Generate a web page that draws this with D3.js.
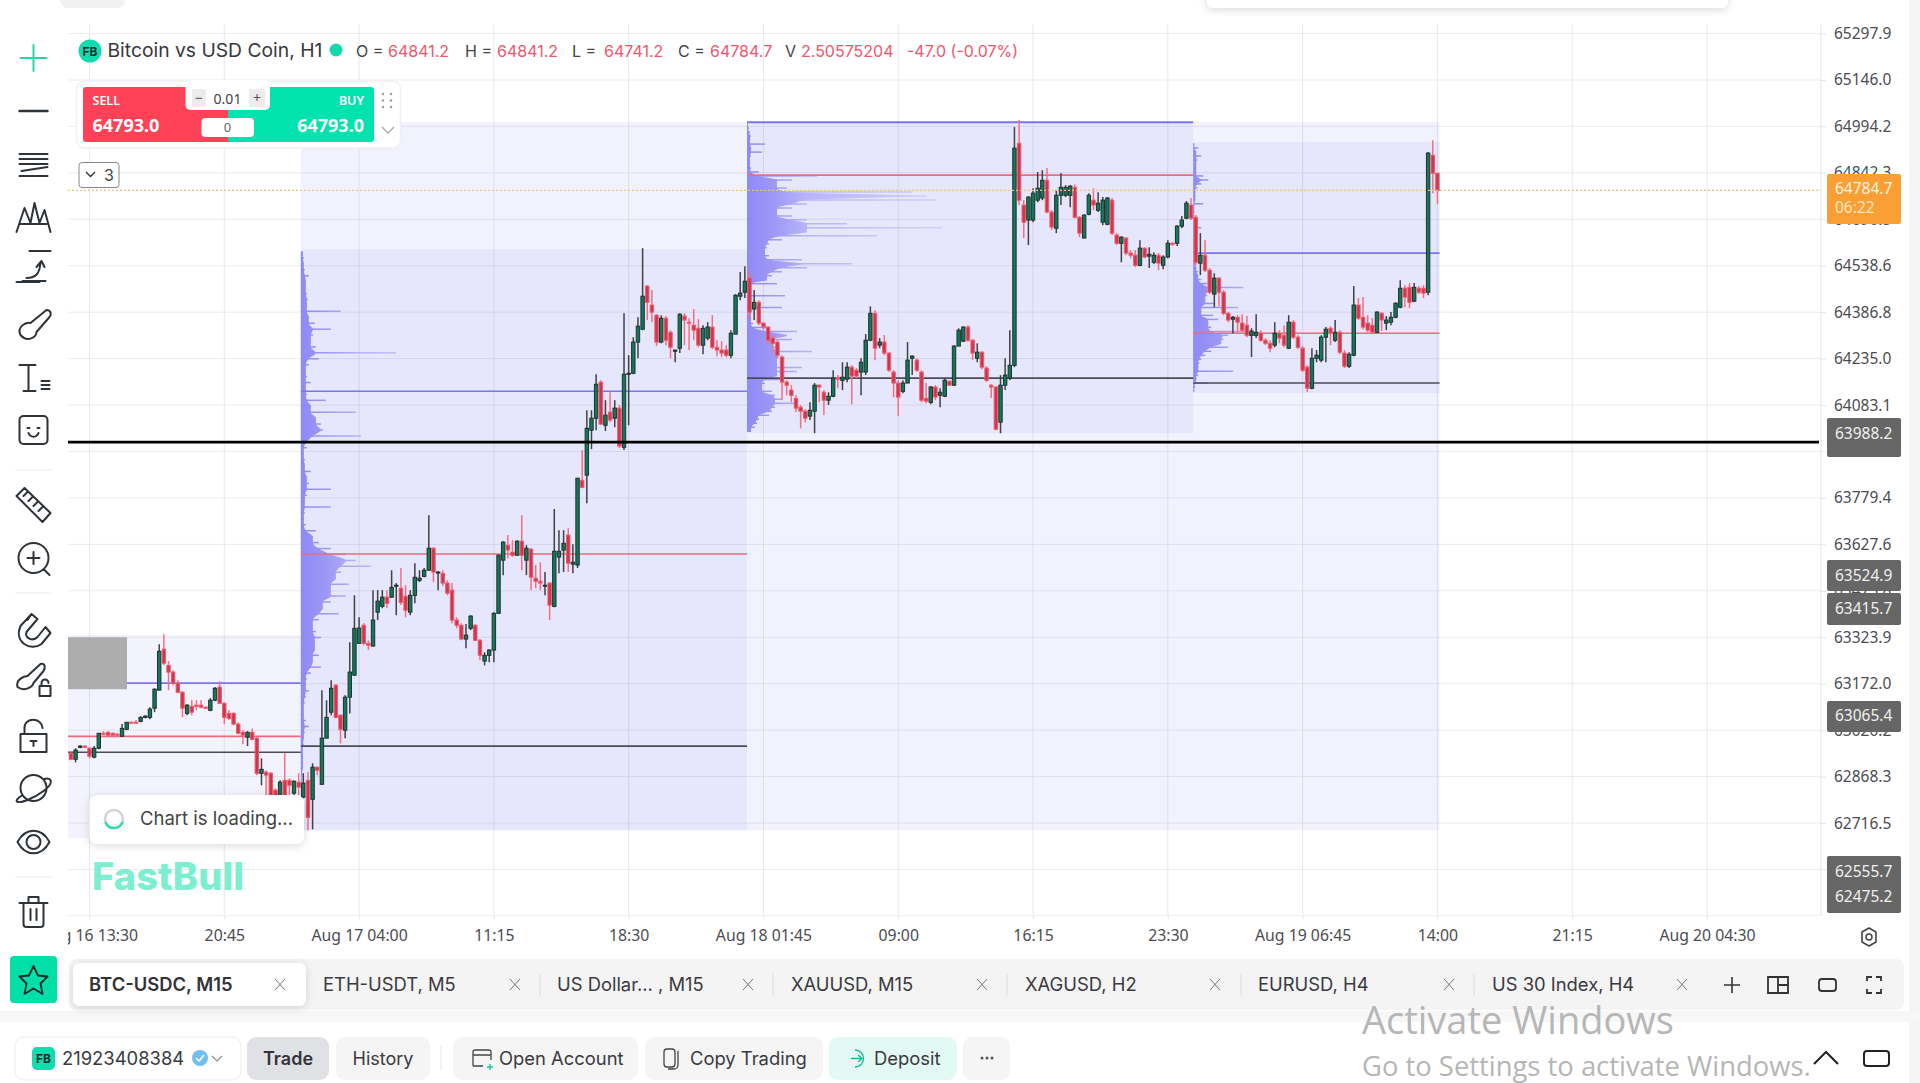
<!DOCTYPE html>
<html>
<head>
<meta charset="utf-8">
<script src="https://cdn.jsdelivr.net/npm/d3@7"></script>
<style>
html, body { margin: 0; padding: 0; background: #fff; overflow: hidden; }
text { font-family: Inter, "Noto Sans", sans-serif; }
text.num { font-family: "Noto Sans", sans-serif; }
</style>
</head>
<body>
<svg id="chart" width="1920" height="1083"></svg>
<script>
// 15 minute bars, the first one is Aug 16 12:30
var first_bar = '2024-08-16T12:30';
var bar_open = [62945,62925,62964,62968,62961,62932,62961,63010,63013,63010,63007,63000,63023,63046,63046,63049,63062,63062,63092,63151,63285,63232,63210,63174,63144,63075,63098,63102,63102,63095,63085,63118,63161,63108,63075,63075,63040,63013,62997,63013,62994,62879,62883,62879,62824,62807,62856,62856,62814,62850,62801,62856,62794,62899,62843,62994,63079,63167,63069,63020,63128,63200,
63304,63363,63304,63295,63406,63425,63455,63455,63491,63484,63458,63406,63461,63510,63523,63543,63615,63537,63533,63501,63478,63380,63363,63318,63353,63363,63314,63246,63265,63282,63402,63576,63625,63602,63592,63638,63576,63612,63517,63507,63491,63501,63425,63586,63609,63658,63563,63560,63837,63854,64001,64040,64158,64017,64060,64040,64073,63945,64184,64187,64289,64331,64472,64410,64377,64289,64367,64321,64259,64269,64374,64354,64344,64334,64279,64302,64338,64272,64263,64263,64246,64315,64439,64452,64498,64397,64419,64351,64338,64302,64289,64240,64158,64132,64105,64076,64063,64047,64063,64148,64125,64099,64112,64171,64164,64168,64207,64197,64191,64191,64295,64383,64279,64289,64253,64191,64155,64128,64155,64236,64230,64191,64105,64092,64142,64115,64112,64161,64148,64276,64292,64338,64295,64236,64256,64204,64148,64142,64027,64148,64171,64213,64939,64737,64688,64688,64753,64760,64818,64714,64661,64769,64769,64769,64795,64697,64629,64707,64753,64720,64681,64674,64753,64639,64612,64629,64580,64573,64540,64596,64570,64550,64573,64540,64567,64612,64612,64668,64694,64737,64697,64547,64573,64524,64446,64498,64452,64383,64364,64370,64351,64344,64311,64311,64318,64295,64285,64279,64318,64311,64269,64354,64305,64269,64207,64138,64236,64230,64305,64334,64295,64321,64253,64210,64246,64410,64370,64351,64344,64321,64383,64351,64354,64370,64403,64465,64468,64423,64465,64465,64452,64900,64841.2];
var bar_high = [62948,62961,62971,62971,62964,62968,63010,63017,63017,63013,63010,63040,63046,63049,63053,63066,63069,63095,63157,63301,63334,63246,63216,63183,63148,63105,63118,63118,63118,63098,63125,63161,63180,63111,63085,63079,63046,63020,63017,63026,62997,62928,62889,62883,62830,62856,62945,62863,62856,62879,62879,62883,62912,62902,63151,63118,63183,63170,63072,63134,63308,63461,
63389,63370,63314,63478,63478,63478,63478,63543,63501,63550,63494,63478,63566,63543,63550,63723,63618,63540,63543,63510,63501,63389,63370,63367,63396,63367,63318,63275,63285,63406,63595,63638,63658,63641,63641,63723,63625,63615,63560,63569,63537,63504,63743,63674,63674,63680,63628,63844,63936,64066,64066,64184,64164,64099,64125,64099,64083,64383,64246,64305,64370,64596,64475,64459,64380,64377,64374,64328,64263,64383,64383,64367,64397,64364,64344,64354,64377,64295,64292,64279,64328,64446,64518,64537,64524,64459,64426,64354,64341,64312,64295,64246,64164,64148,64115,64083,64070,64092,64155,64151,64132,64125,64197,64181,64223,64223,64213,64204,64236,64315,64406,64393,64302,64312,64256,64197,64164,64164,64289,64246,64236,64197,64155,64145,64148,64138,64171,64164,64279,64334,64341,64344,64299,64285,64259,64210,64151,64145,64181,64236,64328,64992,65015,64753,64766,64792,64845,64851,64858,64720,64786,64841,64802,64802,64805,64701,64707,64776,64792,64779,64763,64763,64760,64645,64635,64632,64590,64590,64622,64599,64599,64583,64580,64573,64622,64616,64671,64701,64750,64760,64704,64645,64622,64531,64514,64501,64459,64387,64374,64377,64380,64374,64334,64380,64328,64302,64295,64354,64328,64344,64377,64361,64311,64276,64213,64269,64263,64311,64338,64341,64361,64328,64263,64256,64472,64433,64436,64377,64367,64390,64387,64374,64387,64419,64491,64475,64482,64482,64472,64475,64910,64949,64841.2];
var bar_low = [62922,62915,62961,62961,62928,62928,62958,63004,63000,63000,63000,63000,63020,63043,63043,63046,63059,63056,63079,63151,63232,63151,63167,63141,63062,63069,63069,63085,63092,63089,63082,63115,63105,63040,63053,63036,63007,62974,62968,62987,62873,62840,62791,62791,62801,62791,62791,62791,62804,62807,62798,62693,62696,62873,62843,62994,63069,63059,62977,62994,63075,63197,
63304,63298,63282,63295,63380,63419,63419,63452,63396,63429,63389,63396,63435,63504,63520,63543,63504,63478,63491,63461,63370,63353,63314,63288,63347,63311,63249,63232,63242,63242,63402,63527,63582,63586,63592,63543,63527,63478,63484,63478,63461,63380,63422,63533,63537,63537,63533,63550,63811,63762,63939,64001,64017,63998,64027,64011,63942,63936,64017,64184,64236,64328,64361,64354,64276,64285,64279,64236,64223,64253,64279,64263,64295,64272,64249,64295,64266,64243,64240,64240,64236,64315,64426,64433,64367,64361,64344,64328,64279,64256,64236,64099,64115,64092,64060,64007,64027,64034,63991,64092,64050,64083,64109,64138,64132,64158,64086,64171,64115,64181,64292,64230,64269,64246,64191,64109,64047,64122,64155,64181,64191,64092,64089,64086,64099,64076,64109,64145,64145,64276,64289,64289,64230,64223,64200,64158,64106,64001,63991,64132,64164,64207,64737,64629,64606,64681,64746,64753,64710,64655,64645,64737,64763,64730,64694,64632,64629,64704,64720,64714,64671,64671,64639,64606,64550,64573,64563,64534,64537,64563,64531,64544,64524,64527,64563,64603,64603,64661,64691,64688,64540,64508,64518,64446,64403,64406,64377,64354,64318,64321,64321,64305,64240,64302,64289,64279,64256,64272,64285,64272,64266,64299,64266,64191,64125,64135,64223,64223,64223,64279,64289,64249,64204,64204,64243,64361,64331,64321,64315,64318,64325,64328,64344,64367,64400,64403,64400,64419,64446,64433,64442,64776,64741.2];
var bar_close = [62925,62955,62968,62964,62935,62961,63010,63007,63004,63004,63004,63026,63046,63043,63043,63062,63066,63089,63154,63278,63239,63210,63174,63144,63092,63102,63079,63098,63095,63092,63118,63157,63108,63062,63059,63040,63010,63004,63013,62990,62879,62892,62873,62807,62807,62850,62807,62840,62853,62834,62847,62735,62899,62889,62994,63062,63157,63062,63023,63128,63210,63353,
63354,63304,63298,63380,63442,63455,63435,63487,63494,63438,63412,63461,63520,63517,63543,63615,63537,63537,63501,63468,63380,63363,63318,63331,63393,63314,63265,63265,63282,63402,63592,63635,63609,63592,63638,63592,63615,63520,63507,63501,63494,63429,63605,63605,63631,63566,63569,63844,63814,64007,64040,64151,64021,64050,64034,64073,63949,64184,64187,64289,64341,64439,64419,64387,64289,64367,64295,64272,64263,64380,64361,64351,64328,64279,64334,64338,64272,64263,64253,64246,64318,64442,64449,64488,64387,64419,64351,64338,64295,64285,64246,64158,64148,64115,64073,64063,64040,64066,64148,64142,64099,64112,64171,64168,64174,64207,64178,64178,64223,64295,64383,64269,64289,64253,64197,64155,64109,64155,64230,64243,64197,64099,64096,64142,64109,64125,64164,64148,64276,64328,64338,64295,64253,64256,64207,64164,64142,64004,64148,64181,64213,64923,64753,64681,64763,64776,64792,64818,64714,64665,64769,64795,64795,64799,64697,64645,64704,64769,64737,64743,64753,64760,64645,64612,64632,64580,64573,64540,64596,64567,64576,64573,64547,64567,64612,64609,64668,64688,64743,64694,64550,64573,64524,64452,64498,64452,64383,64361,64370,64354,64328,64311,64325,64321,64295,64285,64269,64318,64302,64279,64354,64305,64272,64197,64138,64236,64246,64305,64331,64318,64321,64256,64210,64249,64410,64367,64338,64328,64321,64387,64361,64361,64370,64416,64465,64436,64419,64468,64452,64449,64907,64841,64784.7];

// Axis ticks
var price_ticks = [65297.9,65146.0,64994.2,64842.3,64690.5,64538.6,64386.8,64235.0,64083.1,63931.3,63779.4,63627.6,63475.8,63323.9,63172.0,63020.2,62868.3,62716.5,62564.6];
var time_ticks = ['2024-08-16T13:30','2024-08-16T20:45','2024-08-17T04:00','2024-08-17T11:15','2024-08-17T18:30','2024-08-18T01:45','2024-08-18T09:00','2024-08-18T16:15','2024-08-18T23:30','2024-08-19T06:45','2024-08-19T14:00','2024-08-19T21:15','2024-08-20T04:30'];
var time_labels = ['Aug 16 13:30','20:45','Aug 17 04:00','11:15','18:30','Aug 18 01:45','09:00','16:15','23:30','Aug 19 06:45','14:00','21:15','Aug 20 04:30'];

// Session boxes of the volume profile indicator
var session_names = ['a', 'b', 'c', 'd'];
var session_start = ['2024-08-16T12:10','2024-08-17T00:52','2024-08-18T00:52','2024-08-19T00:52'];
var session_end = ['2024-08-17T00:52','2024-08-18T00:52','2024-08-19T00:52','2024-08-19T14:07'];
var session_top = [63331,64593,65008,64943];
var session_bottom = [62667,62693,63991,64122];
var session_vah = [63174,64128,65008,64580];
var session_poc = [63000,63596,64835,64318];
var session_val = [62948,62968,64171,64155];
var band_top = 65008, band_bottom = 62693;

// Volume per price row, top row first
var profile_b = [2,3,3,4,8,5,5,6,7,6,40,8,14,30,12,10,15,95,18,8,5,6,10,5,6,25,10,55,15,20,22,60,12,6,3,4,4,10,6,8,30,6,4,30,4,3,5,15,12,18,30,45,55,70,40,35,48,30,45,30,22,38,18,12,15,20,14,14,18,12,20,10,6,5,8,5,4,3,3,5,8,4,3,3,2,2,2,2,2,1,1,1,1,1,1,1,1,1];
var profile_c = [1,2,3,4,3,18,4,15,4,3,3,4,12,70,45,30,40,165,180,190,60,45,30,45,60,100,195,60,130,35,22,20,18,22,55,105,60,35,25,20,30,4,3,38,3,3,35,4,4,4,6,20,50,40,45,25,30,65,30,30,30,55,50,30,35,18,15,25,28,35,50,28,25,22,12,10,8,4];
var profile_d = [1,5,3,8,4,3,3,3,10,15,8,4,2,2,2,10,1,1,1,2,2,8,1,1,1,2,2,1,1,1,3,3,5,5,8,14,50,15,14,12,22,45,8,20,25,15,18,55,35,30,28,35,18,12,8,6,5,40,5,3,15,2,1];
var profile_rows = [[], profile_b, profile_c, profile_d];

// Levels on the price axis
var drawn_line_price = 63962;
var last_price = 64784.7;
var ohlc_names = ['O', 'H', 'L', 'C'];
var ohlc_values = ['64841.2', '64841.2', '64741.2', '64784.7'];
var tab_names = ['ETH-USDT, M5', 'US Dollar... , M15', 'XAUUSD, M15', 'XAGUSD, H2', 'EURUSD, H4', 'US 30 Index, H4'];

var parse_time = d3.utcParse('%Y-%m-%dT%H:%M');
var svg = d3.select('#chart');
var plot_left = 68, plot_right = 1821, plot_top = 24, plot_bottom = 915;

var x = d3.scaleUtc()
    .domain([parse_time(time_ticks[0]), parse_time(time_ticks[12])])
    .range([89.5, 1707]);
var y = d3.scaleLinear()
    .domain([price_ticks[0], price_ticks[18]])
    .range([33.5, 869.5]);

var bar_times = bar_open.map(function (d, i) {
    return new Date(parse_time(first_bar).getTime() + i * 15 * 60000);
});

var defs = svg.append('defs');
defs.append('clipPath').attr('id', 'plot-clip').append('rect')
    .attr('x', plot_left).attr('y', plot_top)
    .attr('width', plot_right - plot_left).attr('height', plot_bottom - plot_top);
defs.append('clipPath').attr('id', 'time-clip').append('rect')
    .attr('x', plot_left).attr('y', plot_bottom)
    .attr('width', plot_right - plot_left).attr('height', 50);
var shadow = defs.append('filter').attr('id', 'soft-shadow')
    .attr('x', '-20%').attr('y', '-30%').attr('width', '140%').attr('height', '170%');
shadow.append('feDropShadow').attr('dx', 0).attr('dy', 2).attr('stdDeviation', 4)
    .attr('flood-color', '#000').attr('flood-opacity', 0.14);

// Profile bars fade out with their length
session_names.forEach(function (name, i) {
    var left = x(parse_time(session_start[i]));
    var gradient = defs.append('linearGradient').attr('id', 'profile-' + name)
        .attr('gradientUnits', 'userSpaceOnUse')
        .attr('x1', left).attr('x2', left + 200).attr('y1', 0).attr('y2', 0);
    gradient.append('stop').attr('offset', 0).attr('stop-color', '#8f89f6');
    gradient.append('stop').attr('offset', 0.12).attr('stop-color', '#9c97f7');
    gradient.append('stop').attr('offset', 0.3).attr('stop-color', '#b8b4fa');
    gradient.append('stop').attr('offset', 1).attr('stop-color', '#d4d3fb');
});

// Page pieces below the chart
svg.append('rect').attr('x', 1909).attr('y', 0).attr('width', 11).attr('height', 1083).attr('fill', '#f5f5f6');
svg.append('rect').attr('x', 0).attr('y', 1011).attr('width', 1920).attr('height', 11).attr('fill', '#f7f7f8');
svg.append('rect').attr('x', 60).attr('y', -10).attr('width', 65).attr('height', 18).attr('rx', 8).attr('fill', '#f1f1f2');
svg.append('rect').attr('x', 1207).attr('y', -12).attr('width', 521).attr('height', 20).attr('rx', 6)
    .attr('fill', '#fff').attr('filter', 'url(#soft-shadow)');

// Grid
var grid = svg.append('g');
grid.selectAll('.hgrid').data(price_ticks).enter().append('line')
    .attr('x1', plot_left).attr('x2', plot_right)
    .attr('y1', function (d) { return y(d); }).attr('y2', function (d) { return y(d); })
    .attr('stroke', '#ececee').attr('stroke-width', 1);
grid.selectAll('.vgrid').data(time_ticks).enter().append('line')
    .attr('x1', function (d) { return x(parse_time(d)); }).attr('x2', function (d) { return x(parse_time(d)); })
    .attr('y1', plot_top).attr('y2', plot_bottom)
    .attr('stroke', '#e8e8ec').attr('stroke-width', 1);

var plot = svg.append('g').attr('clip-path', 'url(#plot-clip)');

// Pale band behind all sessions from the second one on
plot.append('rect')
    .attr('x', x(parse_time(session_start[1]))).attr('y', y(band_top))
    .attr('width', x(parse_time(session_end[3])) - x(parse_time(session_start[1])))
    .attr('height', y(band_bottom) - y(band_top))
    .attr('fill', '#6a6cf5').attr('fill-opacity', 0.085);

// Session boxes
session_names.forEach(function (name, i) {
    var left = x(parse_time(session_start[i]));
    var right = x(parse_time(session_end[i]));
    plot.append('rect')
        .attr('x', left).attr('y', y(session_top[i]))
        .attr('width', right - left).attr('height', y(session_bottom[i]) - y(session_top[i]))
        .attr('fill', '#6a6cf5').attr('fill-opacity', i == 0 ? 0.08 : 0.09);
    var rows = profile_rows[i];
    if (rows.length > 0) {
        var row = d3.scaleLinear().domain([0, rows.length])
            .range([y(session_top[i]), y(session_bottom[i])]);
        // Thin pale spike for every row
        plot.selectAll('.spike-' + name).data(rows).enter().append('line')
            .attr('x1', left)
            .attr('x2', function (d) { return left + d; })
            .attr('y1', function (d, j) { return row(j + 0.5); })
            .attr('y2', function (d, j) { return row(j + 0.5); })
            .attr('stroke', 'url(#profile-' + name + ')')
            .attr('stroke-width', 1.5);
        // Solid body along the left edge, follows the lower neighbour of each row
        var body = rows.map(function (d, j) {
            return d3.min([rows[j - 1], d, rows[j + 1]]);
        });
        var area = d3.area().curve(d3.curveMonotoneY)
            .y(function (d, j) { return row(j + 0.5); })
            .x0(left)
            .x1(function (d) { return left + d; });
        plot.append('path').datum(body)
            .attr('d', area)
            .attr('fill', 'url(#profile-' + name + ')');
    }
});

// Gray leftover of the old drawing in the first session
plot.append('rect').attr('x', plot_left).attr('y', y(63324)).attr('width', 59).attr('height', 52).attr('fill', '#adadad');

// Value area and point of control lines
session_names.forEach(function (name, i) {
    var left = x(parse_time(session_start[i]));
    var right = x(parse_time(session_end[i]));
    if (i == 0) left = 127;
    plot.append('line').attr('x1', left).attr('x2', right)
        .attr('y1', y(session_vah[i])).attr('y2', y(session_vah[i]))
        .attr('stroke', '#7a74ee').attr('stroke-width', i == 2 ? 2 : 1.6);
    if (i == 0) left = plot_left;
    plot.append('line').attr('x1', left).attr('x2', right)
        .attr('y1', y(session_poc[i])).attr('y2', y(session_poc[i]))
        .attr('stroke', '#ee6a7c').attr('stroke-width', 1.6);
    plot.append('line').attr('x1', left).attr('x2', right)
        .attr('y1', y(session_val[i])).attr('y2', y(session_val[i]))
        .attr('stroke', '#4b4b58').attr('stroke-width', 1.6);
});

// Candles
var candles = plot.selectAll('.candle').data(bar_open).enter().append('g').attr('class', 'candle');
function is_up(i) { return bar_close[i] >= bar_open[i]; }
candles.append('line')
    .attr('x1', function (d, i) { return x(bar_times[i]); })
    .attr('x2', function (d, i) { return x(bar_times[i]); })
    .attr('y1', function (d, i) { return y(bar_high[i]); })
    .attr('y2', function (d, i) { return y(bar_low[i]); })
    .attr('stroke', function (d, i) { return is_up(i) ? '#3d4245' : '#f4707f'; })
    .attr('stroke-width', 1.5);
candles.append('rect')
    .attr('x', function (d, i) { return x(bar_times[i]) - 1.7; })
    .attr('width', 3.4)
    .attr('y', function (d, i) { return y(Math.max(bar_open[i], bar_close[i])); })
    .attr('height', function (d, i) { return Math.max(1, Math.abs(y(bar_open[i]) - y(bar_close[i]))); })
    .attr('fill', function (d, i) { return is_up(i) ? '#0f7a5b' : '#c7394e'; })
    .attr('stroke', function (d, i) { return is_up(i) ? '#24302e' : '#f4596b'; })
    .attr('stroke-width', 1);

// Last price and the drawn horizontal line
plot.append('line').attr('x1', plot_left).attr('x2', plot_right)
    .attr('y1', y(last_price)).attr('y2', y(last_price))
    .attr('stroke', '#f4c26f').attr('stroke-width', 1.2).attr('stroke-dasharray', '2,2');
svg.append('line').attr('x1', plot_left).attr('x2', 1819)
    .attr('y1', y(drawn_line_price)).attr('y2', y(drawn_line_price))
    .attr('stroke', '#000').attr('stroke-width', 2.6);

// Axes
var price_axis = d3.axisRight(y).tickValues(price_ticks)
    .tickFormat(function (d) { return d.toFixed(1); }).tickSize(5).tickPadding(8);
var price_g = svg.append('g').attr('transform', 'translate(' + plot_right + ',0)').call(price_axis);
price_g.select('.domain').attr('d', 'M0,' + plot_top + 'V' + plot_bottom).attr('stroke', '#e4e4e6');
price_g.selectAll('.tick line').attr('stroke', '#e4e4e6');
price_g.selectAll('text').style('font-family', '"Noto Sans"').style('font-size', '15.5px').attr('fill', '#4c4c52');

var time_axis = d3.axisBottom(x).tickValues(time_ticks.map(parse_time))
    .tickFormat(function (d, i) { return time_labels[i]; }).tickSize(4).tickPadding(11);
var time_g = svg.append('g').attr('clip-path', 'url(#time-clip)')
    .append('g').attr('transform', 'translate(0,' + plot_bottom + ')').call(time_axis);
time_g.select('.domain').attr('d', 'M' + plot_left + ',0H' + plot_right).attr('stroke', '#e4e4e6');
time_g.selectAll('.tick line').attr('stroke', '#e4e4e6');
time_g.selectAll('text').style('font-family', '"Noto Sans"').style('font-size', '15.8px').attr('fill', '#4c4c52');

// Price badges on the axis
function badge(top, bottom, color) {
    svg.append('rect').attr('x', 1827).attr('y', top).attr('width', 74).attr('height', bottom - top)
        .attr('rx', 2).attr('fill', color);
}
function badge_text(text_y, label, color) {
    svg.append('text').attr('class', 'num').attr('x', 1835).attr('y', text_y).attr('dy', '0.36em')
        .attr('font-size', 15.5).attr('fill', color).text(label);
}
badge(174, 224, '#fa9f35');
badge_text(188, last_price.toFixed(1), '#fff3e0');
badge_text(207, '06:22', '#ffe6bd');
badge(418, 457, '#666666');
badge_text(433, '63988.2', '#f0f0f0');
badge(560, 591, '#666666');
badge_text(575, '63524.9', '#f0f0f0');
badge(593, 625, '#666666');
badge_text(608, '63415.7', '#f0f0f0');
badge(701, 732, '#666666');
badge_text(715, '63065.4', '#f0f0f0');
badge(856, 913, '#666666');
badge_text(871, '62555.7', '#f0f0f0');
badge_text(896, '62475.2', '#f0f0f0');

// Title row
svg.append('circle').attr('cx', 90).attr('cy', 51).attr('r', 11.5).attr('fill', '#12dcae');
svg.append('text').attr('x', 90).attr('y', 55.5).attr('text-anchor', 'middle')
    .attr('font-size', 12).attr('font-weight', 700).attr('fill', '#14302a').text('FB');
svg.append('text').attr('x', 107.5).attr('y', 57).attr('font-size', 19.3).attr('fill', '#36363c')
    .text('Bitcoin vs USD Coin, H1');
svg.append('circle').attr('cx', 336).attr('cy', 50).attr('r', 6.5).attr('fill', '#12dcae');
var ohlc_x = [356, 465, 572, 678];
ohlc_names.forEach(function (name, i) {
    svg.append('text').attr('x', ohlc_x[i]).attr('y', 57).attr('font-size', 16).attr('fill', '#44444a').text(name + ' =');
    svg.append('text').attr('x', ohlc_x[i] + 32).attr('y', 57).attr('font-size', 16).attr('fill', '#f0566b').text(ohlc_values[i]);
});
svg.append('text').attr('x', 785).attr('y', 57).attr('font-size', 16).attr('fill', '#44444a').text('V');
svg.append('text').attr('x', 801).attr('y', 57).attr('font-size', 16).attr('fill', '#f0566b').text('2.50575204');
svg.append('text').attr('x', 907).attr('y', 57).attr('font-size', 16).attr('fill', '#f0566b').text('-47.0 (-0.07%)');

// Quick trade widget
svg.append('rect').attr('x', 76.5).attr('y', 81).attr('width', 324).attr('height', 67).attr('rx', 8)
    .attr('fill', '#fff').attr('stroke', '#f0f0f2').attr('stroke-width', 1.5);
svg.append('rect').attr('x', 83).attr('y', 87).attr('width', 150).attr('height', 55).attr('rx', 3).attr('fill', '#ff4257');
svg.append('rect').attr('x', 228).attr('y', 87).attr('width', 146).attr('height', 55).attr('rx', 3).attr('fill', '#00e3ae');
svg.append('rect').attr('x', 185.5).attr('y', 80).attr('width', 84.5).attr('height', 30).attr('rx', 5).attr('fill', '#fff');
svg.append('rect').attr('x', 192).attr('y', 89).attr('width', 14).attr('height', 18).attr('rx', 2).attr('fill', '#ececee');
svg.append('rect').attr('x', 249).attr('y', 89).attr('width', 16).attr('height', 18).attr('rx', 2).attr('fill', '#ececee');
svg.append('text').attr('class', 'num').attr('x', 199).attr('y', 103).attr('text-anchor', 'middle').attr('font-size', 14).attr('fill', '#555').text('−');
svg.append('text').attr('class', 'num').attr('x', 257).attr('y', 103).attr('text-anchor', 'middle').attr('font-size', 14).attr('fill', '#555').text('+');
svg.append('text').attr('class', 'num').attr('x', 227.5).attr('y', 104).attr('text-anchor', 'middle').attr('font-size', 14).attr('fill', '#444').text('0.01');
svg.append('rect').attr('x', 201.5).attr('y', 118).attr('width', 52.5).attr('height', 19).attr('rx', 4).attr('fill', '#fff');
svg.append('text').attr('class', 'num').attr('x', 227.5).attr('y', 132).attr('text-anchor', 'middle').attr('font-size', 13).attr('fill', '#666').text('0');
svg.append('text').attr('class', 'num').attr('x', 92.5).attr('y', 105).attr('font-size', 12.5).attr('font-weight', 600).attr('fill', '#fff').text('SELL');
svg.append('text').attr('class', 'num').attr('x', 92.5).attr('y', 132).attr('font-size', 18).attr('font-weight', 700).attr('fill', '#fff').text('64793.0');
svg.append('text').attr('class', 'num').attr('x', 364).attr('y', 105).attr('text-anchor', 'end').attr('font-size', 12.5).attr('font-weight', 600).attr('fill', '#fff').text('BUY');
svg.append('text').attr('class', 'num').attr('x', 364).attr('y', 132).attr('text-anchor', 'end').attr('font-size', 18).attr('font-weight', 700).attr('fill', '#fff').text('64793.0');
[0, 1, 2].forEach(function (r) {
    [383, 391].forEach(function (cx) {
        svg.append('circle').attr('cx', cx).attr('cy', 94 + r * 6.5).attr('r', 1.2).attr('fill', '#9a9a9f');
    });
});
svg.append('path').attr('d', 'M382,127l6,6l6,-6').attr('fill', 'none').attr('stroke', '#aaa').attr('stroke-width', 1.3);

// Collapsed indicators button
svg.append('rect').attr('x', 79).attr('y', 162.5).attr('width', 40).attr('height', 25).attr('rx', 3)
    .attr('fill', '#fff').attr('stroke', '#888').attr('stroke-width', 1);
svg.append('path').attr('d', 'M86,172l4.5,4.5l4.5,-4.5').attr('fill', 'none').attr('stroke', '#333').attr('stroke-width', 1.4);
svg.append('text').attr('x', 104).attr('y', 181).attr('font-size', 16).attr('fill', '#444').text('3');

// Loading toast and logo
svg.append('rect').attr('x', 89.5).attr('y', 795).attr('width', 214.5).attr('height', 49).attr('rx', 8)
    .attr('fill', '#fff').attr('filter', 'url(#soft-shadow)');
svg.append('circle').attr('cx', 114).attr('cy', 819).attr('r', 9).attr('fill', 'none').attr('stroke', '#d4d4d6').attr('stroke-width', 2.5);
svg.append('path').attr('d', d3.arc()({ innerRadius: 7.8, outerRadius: 10.3, startAngle: 1.9, endAngle: 4.4 }))
    .attr('transform', 'translate(114,819)').attr('fill', '#2fdcb0');
svg.append('text').attr('x', 140).attr('y', 825).attr('font-size', 18.5).attr('fill', '#444').text('Chart is loading...');
svg.append('text').attr('x', 92).attr('y', 890).attr('font-size', 38).attr('font-weight', 800)
    .attr('fill', '#7cefd0').attr('textLength', 152).text('FastBull');

// Left tool column, icons are centered on the origin
var tool_icons = [
    [58, 'M-13,0H13M0,-13V13', '#22d8a8'],
    [111, 'M-14,0H14'],
    [165, 'M-14,-11H14M-14,-6H14M-14,-1H14M-12,6L14,2M-14,11H14'],
    [218, 'M-17,14L-9,-10L-3,5L1,-15L6,5L11,-8L17,14M-13,6H13'],
    [268, 'M-11,13H12M-17,14H6M-7,10C3,10,6,5,7,-5M3,-1L8,-7L11,-1M-4,-17H17'],
    [325, 'M-13,10C-17,2,-8,-3,-3,-2L13,-15C18,-15,18,-10,16,-8L3,7C3,12,-6,18,-13,10Z'],
    [377, 'M-14,-12H2M-5,-12V14M-10,14H2M8,4H16M8,8H16M8,12H16'],
    [430, 'M-14,-10a4,4,0,0,1,4,-4H10a4,4,0,0,1,4,4V10a4,4,0,0,1,-4,4H-10a4,4,0,0,1,-4,-4ZM-6,-2H-4M4,-2H6M-5,3C-3,8,3,8,5,3'],
    [505, 'M-17,-9L-9,-17L17,8L9,17ZM-10,-9L-6,-13M-5,-4L-1,-8M0,1L4,-3M5,6L9,2'],
    [558, 'M-15,0A14,14,0,1,1,15,0A14,14,0,1,1,-15,0M-6,0H6M0,-6V6M10,11L16,17'],
    [630, 'M-2,-16L4,-11L-7,2C-9,8,-1,12,4,7L12,-3L17,3L8,14C-3,22,-20,12,-13,-4ZM-2,-16L-6,-10M12,-3L8,2'],
    [680, 'M-16,7C-18,0,-10,-4,-6,-4L7,-16C12,-17,12,-12,10,-9L0,3C-1,7,-9,12,-16,7ZM6,6H17V16H6ZM8,6V3A3.5,3.5,0,0,1,15,3'],
    [737, 'M-13,-3H13V15H-13ZM-9,-3V-9C-9,-20,8,-20,9,-9M-3,4H3M0,4V9'],
    [788, 'M-13,0A13,13,0,1,1,13,0A13,13,0,1,1,-13,0M-11,7C-22,14,-16,16,-6,12C4,8,20,-2,17,-8C16,-9,14,-10,11,-9'],
    [842, 'M-16,0C-8,-15,8,-15,16,0C8,15,-8,15,-16,0ZM-7,0A7,7,0,1,1,7,0A7,7,0,1,1,-7,0'],
    [912, 'M-14,-9H14M-5,-9V-15H5V-9M-10,-9V12a3,3,0,0,0,3,3H7a3,3,0,0,0,3,-3V-9M-3,-3V8M3,-3V8']
];
tool_icons.forEach(function (icon) {
    svg.append('path').attr('transform', 'translate(33.5,' + icon[0] + ')')
        .attr('d', icon[1]).attr('fill', 'none')
        .attr('stroke', icon[2] || '#2e3338').attr('stroke-width', icon[0] == 111 ? 2.4 : 2)
        .attr('stroke-linecap', 'round').attr('stroke-linejoin', 'round');
});
[470, 593, 877].forEach(function (sep) {
    svg.append('line').attr('x1', 15).attr('x2', 52).attr('y1', sep).attr('y2', sep).attr('stroke', '#ececee');
});

// Favourites button
svg.append('rect').attr('x', 10).attr('y', 956).attr('width', 47).attr('height', 47).attr('rx', 4).attr('fill', '#00dfa8');
svg.append('path').attr('transform', 'translate(33.5,980)')
    .attr('d', 'M0,-14L4.5,-4.5L14,-3.5L7,3.5L9,14L0,8.5L-9,14L-7,3.5L-14,-3.5L-4.5,-4.5Z')
    .attr('fill', 'none').attr('stroke', '#1c2b28').attr('stroke-width', 1.8).attr('stroke-linejoin', 'round');

// Tab strip
svg.append('rect').attr('x', 69).attr('y', 959).attr('width', 1835).attr('height', 51).attr('rx', 8).attr('fill', '#f4f4f5');
svg.append('rect').attr('x', 73).attr('y', 963).attr('width', 233).attr('height', 43).attr('rx', 7)
    .attr('fill', '#fff').attr('filter', 'url(#soft-shadow)');
svg.append('text').attr('x', 89).attr('y', 991).attr('font-size', 18.4).attr('font-weight', 600).attr('fill', '#33333a').text('BTC-USDC, M15');
function close_mark(cx) {
    svg.append('path').attr('d', 'M' + (cx - 5) + ',979l10,11m0,-11l-10,11').attr('fill', 'none').attr('stroke', '#777').attr('stroke-width', 1);
}
close_mark(280);
var tab_x = [323, 557, 791, 1025, 1258, 1492];
var close_x = [515, 748, 982, 1215, 1449, 1682];
var sep_x = [540, 773, 1007, 1241, 1474];
tab_names.forEach(function (name, i) {
    svg.append('text').attr('x', tab_x[i]).attr('y', 991).attr('font-size', 18.4).attr('fill', '#3a3a40').text(name);
    close_mark(close_x[i]);
});
sep_x.forEach(function (sx) {
    svg.append('line').attr('x1', sx).attr('x2', sx).attr('y1', 974).attr('y2', 996).attr('stroke', '#dddddf');
});
svg.append('path').attr('d', 'M1724,985H1740M1732,977V993').attr('fill', 'none').attr('stroke', '#333').attr('stroke-width', 1.6);
svg.append('path').attr('d', 'M1768,977H1788V993H1768ZM1778,977V993M1778,985H1788').attr('fill', 'none').attr('stroke', '#333').attr('stroke-width', 1.8);
svg.append('rect').attr('x', 1819).attr('y', 979).attr('width', 17).attr('height', 12).attr('rx', 3).attr('fill', 'none').attr('stroke', '#333').attr('stroke-width', 1.8);
svg.append('path').attr('d', 'M1867,981V977H1872M1876,977H1881V981M1881,989V993H1876M1872,993H1867V989').attr('fill', 'none').attr('stroke', '#333').attr('stroke-width', 1.8);

// Settings gear under the price axis
svg.append('circle').attr('cx', 1869).attr('cy', 937).attr('r', 3).attr('fill', 'none').attr('stroke', '#444').attr('stroke-width', 1.5);
svg.append('path').attr('d', 'M1869,928L1876,932V942L1869,946L1862,942V932Z').attr('fill', 'none').attr('stroke', '#444').attr('stroke-width', 1.6).attr('stroke-linejoin', 'round');

// Bottom bar
function bottom_button(left, width, fill, stroke) {
    svg.append('rect').attr('x', left).attr('y', 1037).attr('width', width).attr('height', 43).attr('rx', 9)
        .attr('fill', fill).attr('stroke', stroke || 'none');
}
bottom_button(15, 226, '#fff', '#eeeeef');
bottom_button(247, 82, '#dfe1e4');
bottom_button(336, 94, '#f5f5f6');
bottom_button(453, 185, '#f5f5f6');
bottom_button(645, 178, '#f5f5f6');
bottom_button(829, 128, '#e3f9f3');
bottom_button(963, 47, '#f5f5f6');
svg.append('rect').attr('x', 32).attr('y', 1047).attr('width', 23).attr('height', 23).attr('rx', 5).attr('fill', '#12dcae');
svg.append('text').attr('x', 43.5).attr('y', 1063).attr('text-anchor', 'middle').attr('font-size', 12).attr('font-weight', 700).attr('fill', '#14302a').text('FB');
svg.append('text').attr('x', 62).attr('y', 1064.5).attr('font-size', 18.4).attr('fill', '#3a3a40').text('21923408384');
svg.append('circle').attr('cx', 200).attr('cy', 1058).attr('r', 8).attr('fill', '#6fc0f6');
svg.append('path').attr('d', 'M196,1058l3,3l5,-6').attr('fill', 'none').attr('stroke', '#fff').attr('stroke-width', 1.6);
svg.append('path').attr('d', 'M212,1056l5,5l5,-5').attr('fill', 'none').attr('stroke', '#888').attr('stroke-width', 1.1);
svg.append('text').attr('x', 288).attr('y', 1064.5).attr('text-anchor', 'middle').attr('font-size', 18).attr('font-weight', 600).attr('fill', '#33333a').text('Trade');
svg.append('text').attr('x', 383).attr('y', 1064.5).attr('text-anchor', 'middle').attr('font-size', 18).attr('fill', '#3a3a40').text('History');
svg.append('line').attr('x1', 441).attr('x2', 441).attr('y1', 1046).attr('y2', 1070).attr('stroke', '#e6e6e8');
svg.append('text').attr('x', 499).attr('y', 1064.5).attr('font-size', 18.4).attr('fill', '#3a3a40').text('Open Account');
svg.append('path').attr('d', 'M473,1066V1052a2,2,0,0,1,2,-2H489a2,2,0,0,1,2,2V1060M473,1055H491M473,1066H483').attr('fill', 'none').attr('stroke', '#444').attr('stroke-width', 1.3);
svg.append('path').attr('d', 'M487,1067h6m-3,-3v6').attr('fill', 'none').attr('stroke', '#12c99c').attr('stroke-width', 1.4);
svg.append('text').attr('x', 690).attr('y', 1064.5).attr('font-size', 18.4).attr('fill', '#3a3a40').text('Copy Trading');
svg.append('rect').attr('x', 664).attr('y', 1049).attr('width', 11).attr('height', 18).attr('rx', 3).attr('fill', 'none').attr('stroke', '#444').attr('stroke-width', 1.3);
svg.append('path').attr('d', 'M678,1051V1065a4,4,0,0,1,-4,4H668').attr('fill', 'none').attr('stroke', '#444').attr('stroke-width', 1.3);
svg.append('text').attr('x', 874).attr('y', 1064.5).attr('font-size', 18.4).attr('fill', '#3a3a40').text('Deposit');
svg.append('path').attr('d', 'M855,1050A8.5,8.5,0,1,1,855,1067M851,1058.5H862M858,1055l4,3.5l-4,3.5').attr('fill', 'none').attr('stroke', '#12b98f').attr('stroke-width', 1.3);
[982, 987, 992].forEach(function (cx) {
    svg.append('circle').attr('cx', cx).attr('cy', 1058).attr('r', 1.5).attr('fill', '#555');
});

// Windows watermark
svg.append('text').attr('x', 1362).attr('y', 1034).attr('font-size', 38).style('font-family', '"Open Sans"').attr('fill', '#b6b6b6').text('Activate Windows');
svg.append('text').attr('x', 1362).attr('y', 1075.5).attr('font-size', 27.4).style('font-family', '"Open Sans"').attr('fill', '#b6b6b6').text('Go to Settings to activate Windows.');
svg.append('path').attr('d', 'M1814,1064L1826,1052L1838,1064').attr('fill', 'none').attr('stroke', '#222').attr('stroke-width', 2);
svg.append('rect').attr('x', 1864).attr('y', 1051).attr('width', 25).attr('height', 15).attr('rx', 3).attr('fill', 'none').attr('stroke', '#222').attr('stroke-width', 2);
</script>
</body>
</html>
